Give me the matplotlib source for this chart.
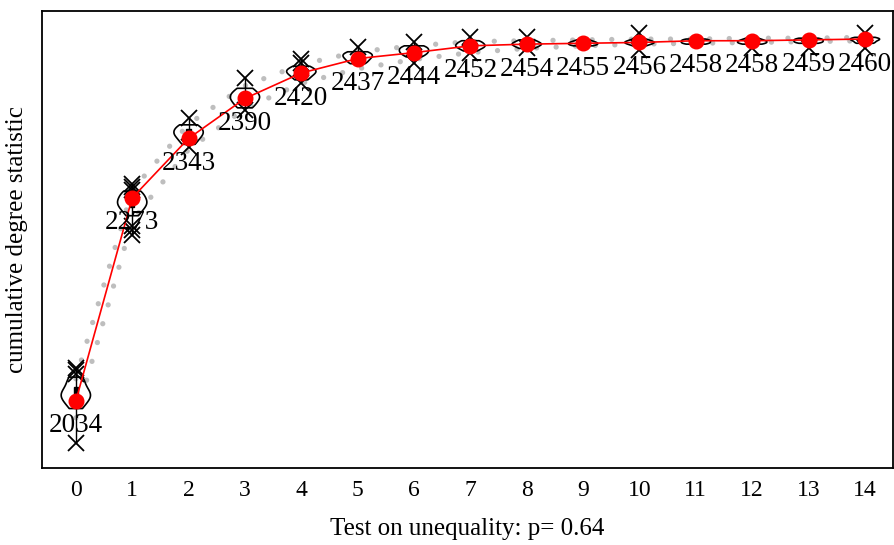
import numpy as np
import matplotlib
matplotlib.use("Agg")
import matplotlib.pyplot as plt

plt.rcParams['font.family'] = ['Liberation Serif', 'DejaVu Serif']

# observed cumulative degree statistic per degree
degrees = list(range(15))
observed = [2034, 2273, 2343, 2390, 2420, 2437, 2444, 2452, 2454, 2455,
            2456, 2458, 2458, 2459, 2460]

# simulated envelope (grey dotted lines)
env_upper = [2060, 2282, 2360, 2405, 2430, 2445, 2452, 2457, 2458, 2459,
             2460, 2460, 2461, 2461, 2462]
env_lower = [2014, 2246, 2330, 2378, 2408, 2425, 2436, 2444, 2449, 2452,
             2454, 2455, 2456, 2457, 2458]

# simulated values (violin bodies)
sims = [
    [2025, 2032, 2036, 2040, 2042, 2045, 2050, 2058, 2062],
    [2252, 2258, 2262, 2265, 2268, 2270, 2274, 2278, 2281],
    [2336, 2341, 2345, 2348, 2350, 2353, 2356, 2359],
    [2379, 2384, 2388, 2391, 2394, 2397, 2402],
    [2412, 2416, 2419, 2421, 2423, 2425, 2428],
    [2431, 2434, 2437, 2439, 2441, 2443, 2445],
    [2439, 2442, 2444, 2446, 2448, 2450, 2452],
    [2446, 2449, 2451, 2452, 2454, 2456, 2458],
    [2449, 2451, 2453, 2454, 2455, 2457, 2459],
    [2452, 2453, 2454, 2455, 2456, 2457, 2459],
    [2452, 2454, 2455, 2456, 2457, 2458, 2460],
    [2454, 2455, 2456, 2457, 2458, 2459, 2460],
    [2454, 2455, 2456, 2457, 2458, 2459, 2461],
    [2455, 2456, 2457, 2458, 2459, 2460, 2461],
    [2455, 2456, 2458, 2459, 2460, 2461, 2462],
]

# extreme simulated values (x marks)
x_high = [[2066, 2070, 2073], [2282, 2286, 2289], [2367], [2414], [2432, 2436],
          [2451], [2456], [2462], [2462], [], [2467], [], [], [], [2467]]
x_low = [[1985], [2229, 2235, 2240], [2333], [2376], [2408], [], [2432],
         [2443], [2449], [], [2447], [], [2449], [2449], [2449]]

xlabels = [str(d) for d in degrees]

fig = plt.figure(figsize=(8.94, 5.45), dpi=100)
ax = fig.add_axes([0.047, 0.1413, 0.952, 0.8385])

# violins
parts = ax.violinplot(sims, positions=degrees, widths=0.52,
                      showextrema=False, bw_method=0.6)
for body in parts['bodies']:
    body.set_facecolor('none')
    body.set_edgecolor('black')
    body.set_linewidth(1.2)
    body.set_alpha(1)
    body.set_zorder(2)

# small boxes and whiskers
for d, s, hi, lo in zip(degrees, sims, x_high, x_low):
    q1, q3 = np.percentile(s, [25, 75])
    ax.add_patch(plt.Rectangle((d - 0.04, q1), 0.08, q3 - q1,
                               facecolor='black', edgecolor='black', zorder=2))
    top = max(hi) if hi else max(s)
    bot = min(lo) if lo else min(s)
    ax.plot([d, d], [bot, top], color='black', lw=1.0, zorder=2)
    ax.plot([d] * len(hi), hi, 'x', color='black', ms=11, mew=1.3, zorder=3)
    ax.plot([d] * len(lo), lo, 'x', color='black', ms=11, mew=1.3, zorder=3)

# envelope
for env in (env_upper, env_lower):
    ax.plot(degrees, env, color='#bebebe', lw=3.8,
            linestyle=(0, (0.01, 3.7)), dash_capstyle='round', zorder=1)

# observed
ax.plot(degrees, observed, color='red', lw=1.2, zorder=4)
ax.plot(degrees, observed, 'o', color='red', ms=10.5, zorder=5)

for d, v in zip(degrees, observed):
    ax.annotate(str(v), (d, v), xytext=(0, -25), textcoords='offset pixels',
                ha='center', va='center', fontsize=19.5, zorder=6)

ax.set_xlim(-0.6, 14.5)
ax.set_ylim(1955, 2493)
ax.set_xticks(degrees)
ax.set_xticklabels(xlabels, fontsize=17)
ax.set_yticks([])
ax.tick_params(axis='x', length=0, pad=9)
for sp in ax.spines.values():
    sp.set_linewidth(1.3)

ax.set_xlabel('Test on unequality: p= 0.64', fontsize=18, labelpad=12)
ax.set_ylabel('cumulative degree statistic', fontsize=18, labelpad=10)

fig.savefig('out.png', dpi=100)
